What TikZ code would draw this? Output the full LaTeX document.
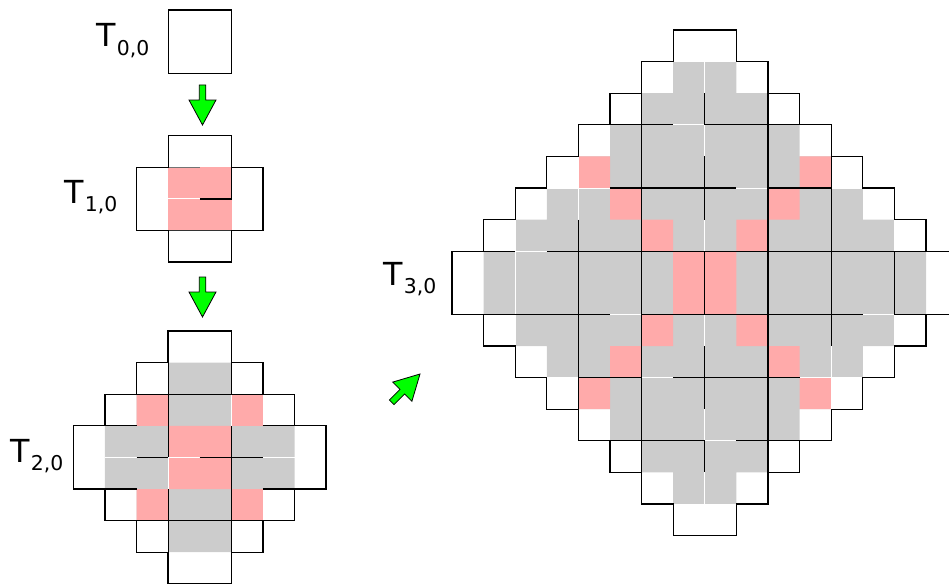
\documentclass[tikz,border=0pt]{standalone}
\usepackage{fontspec}
\newfontfamily\labfont{DejaVu Sans}
\definecolor{tgray}{HTML}{CCCCCC}
\definecolor{tpink}{HTML}{FFAAAA}
\definecolor{tgreen}{HTML}{00FF00}
\tikzset{
  outl/.style={draw=black, line width=1pt, line join=miter},
  inl/.style={draw=black, line width=0.9pt},
  seam/.style={draw=white, line width=0.7pt},
  grayfill/.style={fill=tgray},
  pinkfill/.style={fill=tpink},
  lab/.style={inner sep=0pt, anchor=base west, font=\labfont},
  garrow/.style={fill=tgreen, draw=black, line width=0.6pt, line join=miter},
  cellunits/.style={x=23.7pt, y=-23.7pt}
}
\newcommand{\tlabel}[1]{\fontsize{23.8pt}{24pt}\selectfont T\kern0.9pt\raisebox{-6pt}{\fontsize{15.3pt}{16pt}\selectfont #1}}
\begin{document}
\begin{tikzpicture}[x=0.75pt, y=-0.75pt]
\useasboundingbox (0,0) rectangle (949,585);

% ---------- T_{0,0}
\draw[outl] (168.3,10) rectangle (231.7,73.3);
\node[lab] (l0) at (96,47) {\tlabel{0,0}};

% ---------- arrows
\draw[garrow] (199.25,85) -- (205.75,85) -- (205.75,100) -- (216,100) -- (202.5,125)
  -- (189,100) -- (199.25,100) -- cycle;
\draw[garrow] (199.25,277) -- (205.75,277) -- (205.75,292) -- (216,292) -- (202.5,317)
  -- (189,292) -- (199.25,292) -- cycle;
\draw[garrow] (389.4,400.0) -- (394.0,404.6) -- (404.6,394.0) -- (411.9,401.3) -- (420.0,374.0)
  -- (392.7,382.1) -- (400.0,389.4) -- cycle;

% ---------- T_{1,0}
\begin{scope}[shift={(136.7,135.7)}, cellunits]
  \fill[pinkfill] (1,1) rectangle (3,3);
  \draw[seam] (1,2) -- (2,2);
  \draw[inl] (2,2) -- (3,2) (3,1) -- (3,2);
  \draw[draw=black!55, line width=0.8pt] (1,1) -- (2,1);
  \draw[draw=black!80, line width=0.8pt] (1,3) -- (3,3);
  \draw[outl] (1,0) -- (3,0) -- (3,1) -- (4,1) -- (4,3) -- (3,3) -- (3,4) -- (1,4)
    -- (1,3) -- (0,3) -- (0,1) -- (1,1) -- cycle;
\end{scope}
\node[lab] (l1) at (64,203) {\tlabel{1,0}};

% ---------- T_{2,0}
\begin{scope}[shift={(73.3,331)}, cellunits]
  \fill[grayfill] (3,1) -- (5,1) -- (5,2) -- (6,2) -- (6,3) -- (7,3) -- (7,5) -- (6,5)
    -- (6,6) -- (5,6) -- (5,7) -- (3,7) -- (3,6) -- (2,6) -- (2,5) -- (1,5) -- (1,3)
    -- (2,3) -- (2,2) -- (3,2) -- cycle;
  \fill[pinkfill] (2,2) rectangle (3,3) (5,2) rectangle (6,3) (3,3) rectangle (5,5)
    (2,5) rectangle (3,6) (5,5) rectangle (6,6);
  \draw[seam] (1,4) -- (2,4) (3,4) -- (4,4) (6,4) -- (7,4) (3,4) -- (3,5) (5,2) -- (5,3);
  \draw[inl] (2,2) -- (6,2) (2,6) -- (6,6) (1,3) -- (2,3) (6,3) -- (7,3)
    (1,5) -- (2,5) (6,5) -- (7,5) (2,4) -- (3,4) (4,4) -- (6,4)
    (3,1) -- (3,4) (3,5) -- (3,7) (5,1) -- (5,2) (5,3) -- (5,7);
  \draw[outl] (3,0) -- (5,0) -- (5,1) -- (6,1) -- (6,2) -- (7,2) -- (7,3) -- (8,3)
    -- (8,5) -- (7,5) -- (7,6) -- (6,6) -- (6,7) -- (5,7) -- (5,8) -- (3,8) -- (3,7)
    -- (2,7) -- (2,6) -- (1,6) -- (1,5) -- (0,5) -- (0,3) -- (1,3) -- (1,2) -- (2,2)
    -- (2,1) -- (3,1) -- cycle;
\end{scope}
\node[lab] (l2) at (10,462) {\tlabel{2,0}};

% ---------- T_{3,0}
\begin{scope}[shift={(452,30)}, cellunits]
  \fill[grayfill] (7,1) -- (9,1) -- (9,2) -- (10,2) -- (10,3) -- (11,3) -- (11,4)
    -- (12,4) -- (12,5) -- (13,5) -- (13,6) -- (14,6) -- (14,7) -- (15,7) -- (15,9)
    -- (14,9) -- (14,10) -- (13,10) -- (13,11) -- (12,11) -- (12,12) -- (11,12)
    -- (11,13) -- (10,13) -- (10,14) -- (9,14) -- (9,15) -- (7,15) -- (7,14) -- (6,14)
    -- (6,13) -- (5,13) -- (5,12) -- (4,12) -- (4,11) -- (3,11) -- (3,10) -- (2,10)
    -- (2,9) -- (1,9) -- (1,7) -- (2,7) -- (2,6) -- (3,6) -- (3,5) -- (4,5) -- (4,4)
    -- (5,4) -- (5,3) -- (6,3) -- (6,2) -- (7,2) -- cycle;
  \fill[pinkfill] (4,4) rectangle (5,5) (11,4) rectangle (12,5)
    (5,5) rectangle (6,6) (10,5) rectangle (11,6)
    (6,6) rectangle (7,7) (9,6) rectangle (10,7)
    (7,7) rectangle (9,9)
    (6,9) rectangle (7,10) (9,9) rectangle (10,10)
    (5,10) rectangle (6,11) (10,10) rectangle (11,11)
    (4,11) rectangle (5,12) (11,11) rectangle (12,12);
  \draw[seam] (7,1) -- (9,1) (7,3) -- (8,3) (3,5) -- (5,5) (9,5) -- (10,5)
    (12,5) -- (13,5) (2,7) -- (3,7) (5,9) -- (6,9) (13,9) -- (14,9)
    (3,11) -- (4,11) (6,11) -- (7,11) (11,11) -- (13,11) (8,13) -- (9,13)
    (7,15) -- (9,15)
    (2,6) -- (2,10) (4,4) -- (4,6) (8,1) -- (8,2) (8,3) -- (8,4) (8,6) -- (8,7)
    (8,9) -- (8,10) (8,12) -- (8,13) (8,14) -- (8,15) (12,10) -- (12,12)
    (14,6) -- (14,7) (14,9) -- (14,10);
  \draw[inl] (5,3) -- (7,3) (8,3) -- (11,3) (5,5) -- (9,5) (10,5) -- (12,5)
    (1,7) -- (2,7) (3,7) -- (15,7) (1,9) -- (5,9) (6,9) -- (13,9) (14,9) -- (15,9)
    (4,11) -- (6,11) (7,11) -- (11,11) (5,13) -- (8,13) (9,13) -- (11,13)
    (4,6) -- (4,12) (6,1) -- (6,15) (8,2) -- (8,3) (8,4) -- (8,6) (8,7) -- (8,9)
    (8,10) -- (8,12) (8,13) -- (8,14) (10,1) -- (10,15) (12,4) -- (12,10)
    (14,7) -- (14,9);
  \draw[outl] (7,0) -- (9,0) -- (9,1) -- (10,1) -- (10,2) -- (11,2) -- (11,3) -- (12,3)
    -- (12,4) -- (13,4) -- (13,5) -- (14,5) -- (14,6) -- (15,6) -- (15,7) -- (16,7)
    -- (16,9) -- (15,9) -- (15,10) -- (14,10) -- (14,11) -- (13,11) -- (13,12)
    -- (12,12) -- (12,13) -- (11,13) -- (11,14) -- (10,14) -- (10,15) -- (9,15)
    -- (9,16) -- (7,16) -- (7,15) -- (6,15) -- (6,14) -- (5,14) -- (5,13) -- (4,13)
    -- (4,12) -- (3,12) -- (3,11) -- (2,11) -- (2,10) -- (1,10) -- (1,9) -- (0,9)
    -- (0,7) -- (1,7) -- (1,6) -- (2,6) -- (2,5) -- (3,5) -- (3,4) -- (4,4) -- (4,3)
    -- (5,3) -- (5,2) -- (6,2) -- (6,1) -- (7,1) -- cycle;
\end{scope}
\node[lab] (l3) at (383,285) {\tlabel{3,0}};
\end{tikzpicture}
\end{document}
